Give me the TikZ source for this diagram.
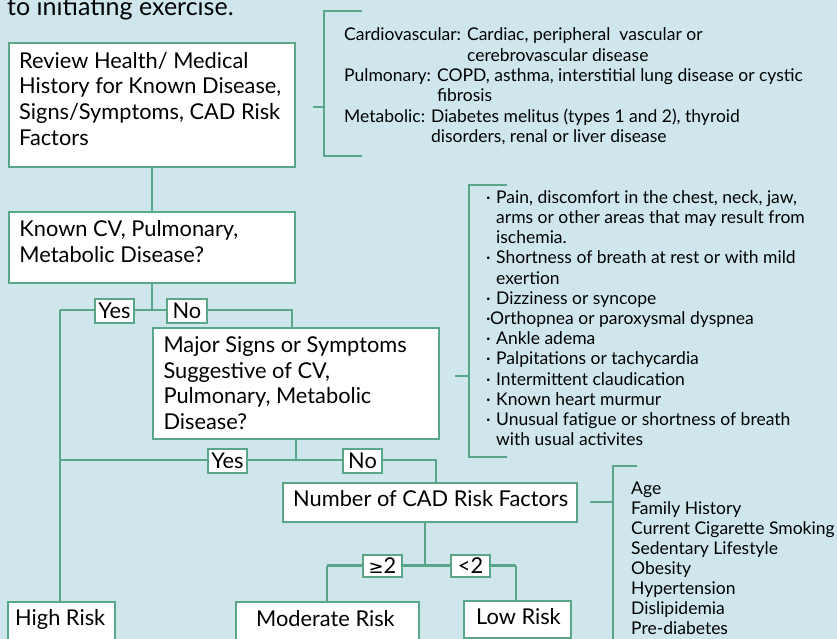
\documentclass[tikz,border=0pt]{standalone}
\usepackage{fontspec}
\setmainfont{Lato}
\newfontfamily\symfont{DejaVu Sans}
\definecolor{bg}{RGB}{206,230,236}
\definecolor{grn}{RGB}{90,166,136}
\newcommand\BigTxt{\fontsize{21.8}{25.6}\selectfont}
\newcommand\SmallTxt{\fontsize{17.5}{20.2}\selectfont}
\newcommand\bul{\makebox[10pt][l]{·}}
\newcommand\ind{\hspace*{10pt}}
\newcommand\Lines[2]{\vtop{\baselineskip=#1\lineskiplimit=-100pt\relax\halign{##\hfil\cr#2\crcr}}}
\begin{document}
\begin{tikzpicture}[x=1pt,y=-1pt,
  box/.style={draw=grn, line width=2.4pt, fill=white, anchor=north west, inner sep=0pt},
  btxt/.style={anchor=base west, inner sep=0pt, font=\BigTxt},
  stxt/.style={anchor=base west, inner sep=0pt, font=\SmallTxt},
  lbl/.style={draw=grn, line width=2pt, fill=white, inner sep=0pt, minimum width=39pt, minimum height=24pt, font=\BigTxt},
  conn/.style={draw=grn, line width=2.4pt},
  brk/.style={draw=grn, line width=2.6pt}]
\useasboundingbox (0,0) rectangle (837,639);
\fill[bg] (0,0) rectangle (837,639);
\clip (0,0) rectangle (837,639);

% top text
\node[btxt, font=\fontsize{25}{30}\selectfont] (tt) at (7,16) {to initiating exercise.};

% boxes
\node[box, minimum width=286pt, minimum height=124pt] (b1) at (8,42) {};
\node[box, minimum width=286pt, minimum height=71pt]  (b2) at (8,211) {};
\node[box, minimum width=286pt, minimum height=111pt] (b3) at (152,327) {};
\node[box, minimum width=294pt, minimum height=39pt]  (b4) at (282,482) {};
\node[box, minimum width=107pt, minimum height=45pt]  (high) at (7,601) {};
\node[box, minimum width=183pt, minimum height=45pt]  (mod) at (235,601) {};
\node[box, minimum width=107pt, minimum height=37pt]  (low) at (463,600) {};

% box texts
\node[btxt] (t1) at (19,68.3) {\Lines{25.6pt}{Review Health/ Medical\cr History for Known Disease,\cr Signs/Symptoms, CAD Risk\cr Factors}};
\node[btxt] (t2) at (19.3,236.7) {\Lines{25.6pt}{Known CV, Pulmonary,\cr Metabolic Disease?}};
\node[btxt] (t3) at (163.3,352.7) {\Lines{25.6pt}{Major Signs or Symptoms\cr Suggestive of CV,\cr Pulmonary, Metabolic\cr Disease?}};
\node[btxt] (t4) at (293,506) {Number of CAD Risk Factors};
\node[btxt] (th) at (15,625.7) {High Risk};
\node[btxt] (tm) at (256,626) {Moderate Risk};
\node[btxt] (tl) at (476,624) {Low Risk};

% connectors
\coordinate (L1) at (60,310);
\coordinate (R1) at (292,310);
\coordinate (L2) at (60,460);
\coordinate (R2) at (436,460);
\coordinate (J3) at (425,565.5);
\coordinate (L3) at (327,565.5);
\coordinate (R3) at (516,565.5);
\draw[conn] (b1.south) -- (b2.north);
\draw[conn] (b2.south) -- (b2.south |- L1);
\draw[conn] (L1) -- (R1) -- (R1 |- b3.north);
\draw[conn] (L1) -- (L1 |- high.north);
\draw[conn] (b3.south) -- (b3.south |- L2);
\draw[conn] (L2) -- (R2) -- (R2 |- b4.north);
\draw[conn] (J3 |- b4.south) -- (J3);
\draw[conn] (L3) -- (R3);
\draw[conn] (L3) -- (L3 |- mod.north);
\draw[conn] (R3) -- (R3 |- low.north);

% labels
\node[lbl] (yes1) at (114.5,311) {Yes};
\node[lbl, minimum width=40pt] (no1) at (187,311) {No};
\node[lbl] (yes2) at (227.5,461) {Yes};
\node[lbl] (no2) at (362.5,461) {No};
\node[lbl, minimum height=22pt] (ge2) at (382.5,566) {{\symfont\fontsize{18}{20}\selectfont ≥}2};
\node[lbl, minimum height=22pt] (lt2) at (470.5,566) {<2};

% brackets
\draw[brk] (362,11) -- (324,11) -- (324,156) -- (362,156);
\draw[brk] (313,107) -- (324,107);
\draw[brk] (507,185) -- (469,185) -- (469,457) -- (507,457);
\draw[brk] (455,376) -- (469,376);
\draw[brk] (637,466) -- (613,466) -- (613,645);
\draw[brk] (590,502) -- (613,502);

% side texts
\node[stxt] (cat) at (344,41) {\Lines{20.3pt}{Cardiovascular: Cardiac, peripheral\ \ vascular or\cr
\phantom{Cardiovascular: }cerebrovascular disease\cr
Pulmonary: COPD, asthma, interstitial lung disease or cystic\cr
\phantom{Pulmonary: }fibrosis\cr
Metabolic: Diabetes melitus (types 1 and 2), thyroid\cr
\phantom{Metabolic: }disorders, renal or liver disease}};

\node[stxt] (sym) at (486,203.3) {\Lines{20.2pt}{\bul Pain, discomfort in the chest, neck, jaw,\cr
\ind arms or other areas that may result from\cr
\ind ischemia.\cr
\bul Shortness of breath at rest or with mild\cr
\ind exertion\cr
\bul Dizziness or syncope\cr
\makebox[4pt][l]{·}Orthopnea or paroxysmal dyspnea\cr
\bul Ankle adema\cr
\bul Palpitations or tachycardia\cr
\bul Intermittent claudication\cr
\bul Known heart murmur\cr
\bul Unusual fatigue or shortness of breath\cr
\ind with usual activites}};

\node[stxt] (risk) at (631,494.3) {\Lines{20pt}{Age\cr Family History\cr Current Cigarette Smoking\cr Sedentary Lifestyle\cr Obesity\cr Hypertension\cr Dislipidemia\cr Pre-diabetes}};
\end{tikzpicture}
\end{document}
